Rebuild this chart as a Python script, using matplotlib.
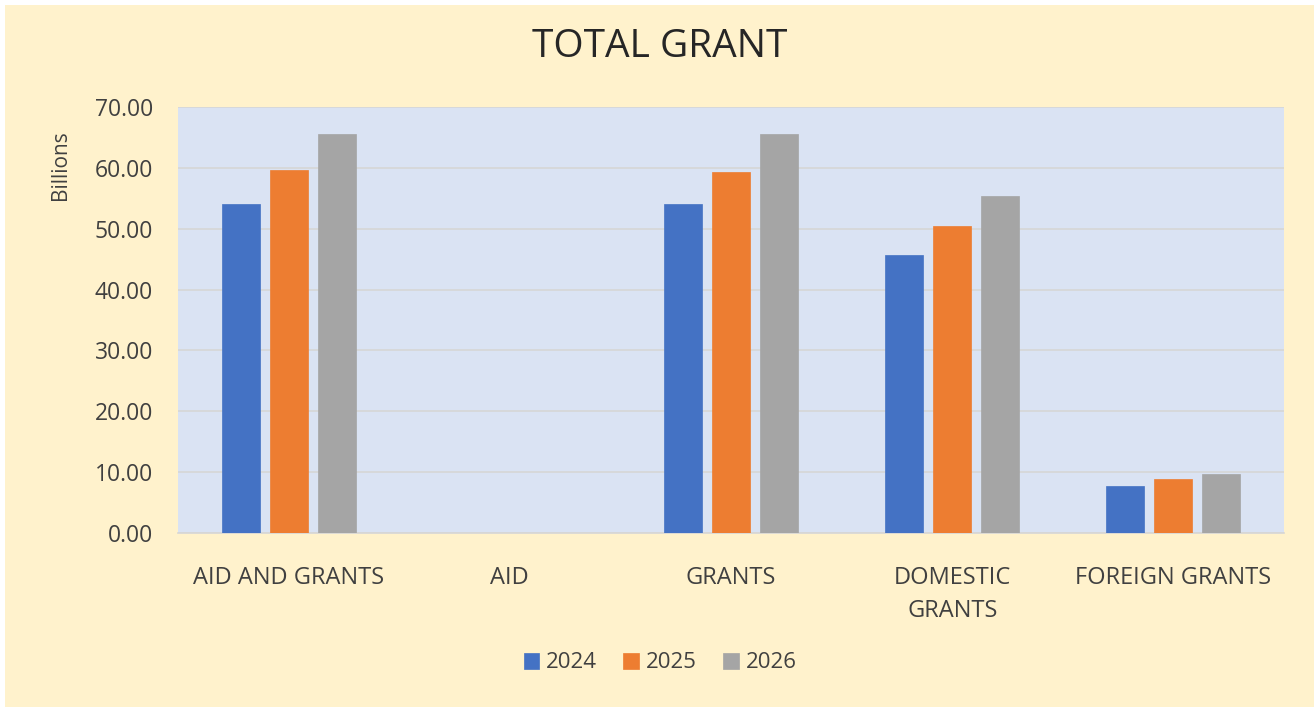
import matplotlib
matplotlib.use("Agg")
import matplotlib.pyplot as plt
from matplotlib.patches import Rectangle
import numpy as np

categories = ["AID AND GRANTS", "AID", "GRANTS", "DOMESTIC\nGRANTS", "FOREIGN GRANTS"]
years = ["2024", "2025", "2026"]
v2024 = [54.0, 0.0, 54.0, 45.7, 7.7]
v2025 = [59.6, 0.0, 59.3, 50.5, 8.9]
v2026 = [65.5, 0.0, 65.5, 55.3, 9.7]
colors = ["#4472C4", "#ED7D31", "#A5A5A5"]
yticks = [0, 10, 20, 30, 40, 50, 60, 70]

plt.rcParams['font.family'] = ['Open Sans', 'DejaVu Sans']

W, H = 1314, 707
fig = plt.figure(figsize=(W / 100, H / 100), dpi=100, facecolor="white")
fig.patches.append(Rectangle((5 / W, 0), 1 - 5 / W, 1 - 5 / H, transform=fig.transFigure,
                             facecolor="#FFF2CC", edgecolor="none", zorder=-10))

ax = fig.add_axes([178 / W, (H - 533) / H, (1284 - 178) / W, (533 - 107) / H])
ax.set_facecolor("#DAE3F3")

x = np.arange(len(categories))
bw = 0.172
step = 0.217
series = [v2024, v2025, v2026]
for i, (vals, c, lab) in enumerate(zip(series, colors, years)):
    ax.bar(x + (i - 1) * step, vals, width=bw, color=c, label=lab, zorder=3,
           edgecolor=c, linewidth=0.5)

ax.set_xlim(-0.5, len(categories) - 0.5)
ax.set_ylim(0, 70)
ax.set_yticks(yticks)
ax.set_yticklabels([f"{t:.2f}" for t in yticks])
ax.set_xticks(x)
ax.set_xticklabels(categories, linespacing=1.5)
ax.grid(axis="y", color="#D6D6D6", linewidth=1.2, zorder=1)
for s in ["top", "right", "left"]:
    ax.spines[s].set_visible(False)
ax.spines["bottom"].set_color("#D6D6D6")
ax.spines["bottom"].set_linewidth(1.2)
ax.tick_params(axis="y", length=0, labelsize=16.5, colors="#404040", pad=18)
ax.tick_params(axis="x", length=0, labelsize=17, colors="#404040", pad=24)

fig.text(660 / W, 1 - 47 / H, "TOTAL GRANT", ha="center", va="center",
         fontsize=28, color="#262626")
fig.text(60 / W, 1 - 165 / H, "Billions", ha="center", va="center",
         rotation=90, fontsize=15, color="#404040")

handles, labels = ax.get_legend_handles_labels()
fig.legend(handles, labels, loc="center", bbox_to_anchor=(660 / W, 1 - 663 / H),
           ncol=3, frameon=False, fontsize=16, handlelength=0.7, handleheight=0.7,
           handletextpad=0.3, columnspacing=1.2, labelcolor="#404040")

fig.savefig("out.png", dpi=100, facecolor=fig.get_facecolor())
